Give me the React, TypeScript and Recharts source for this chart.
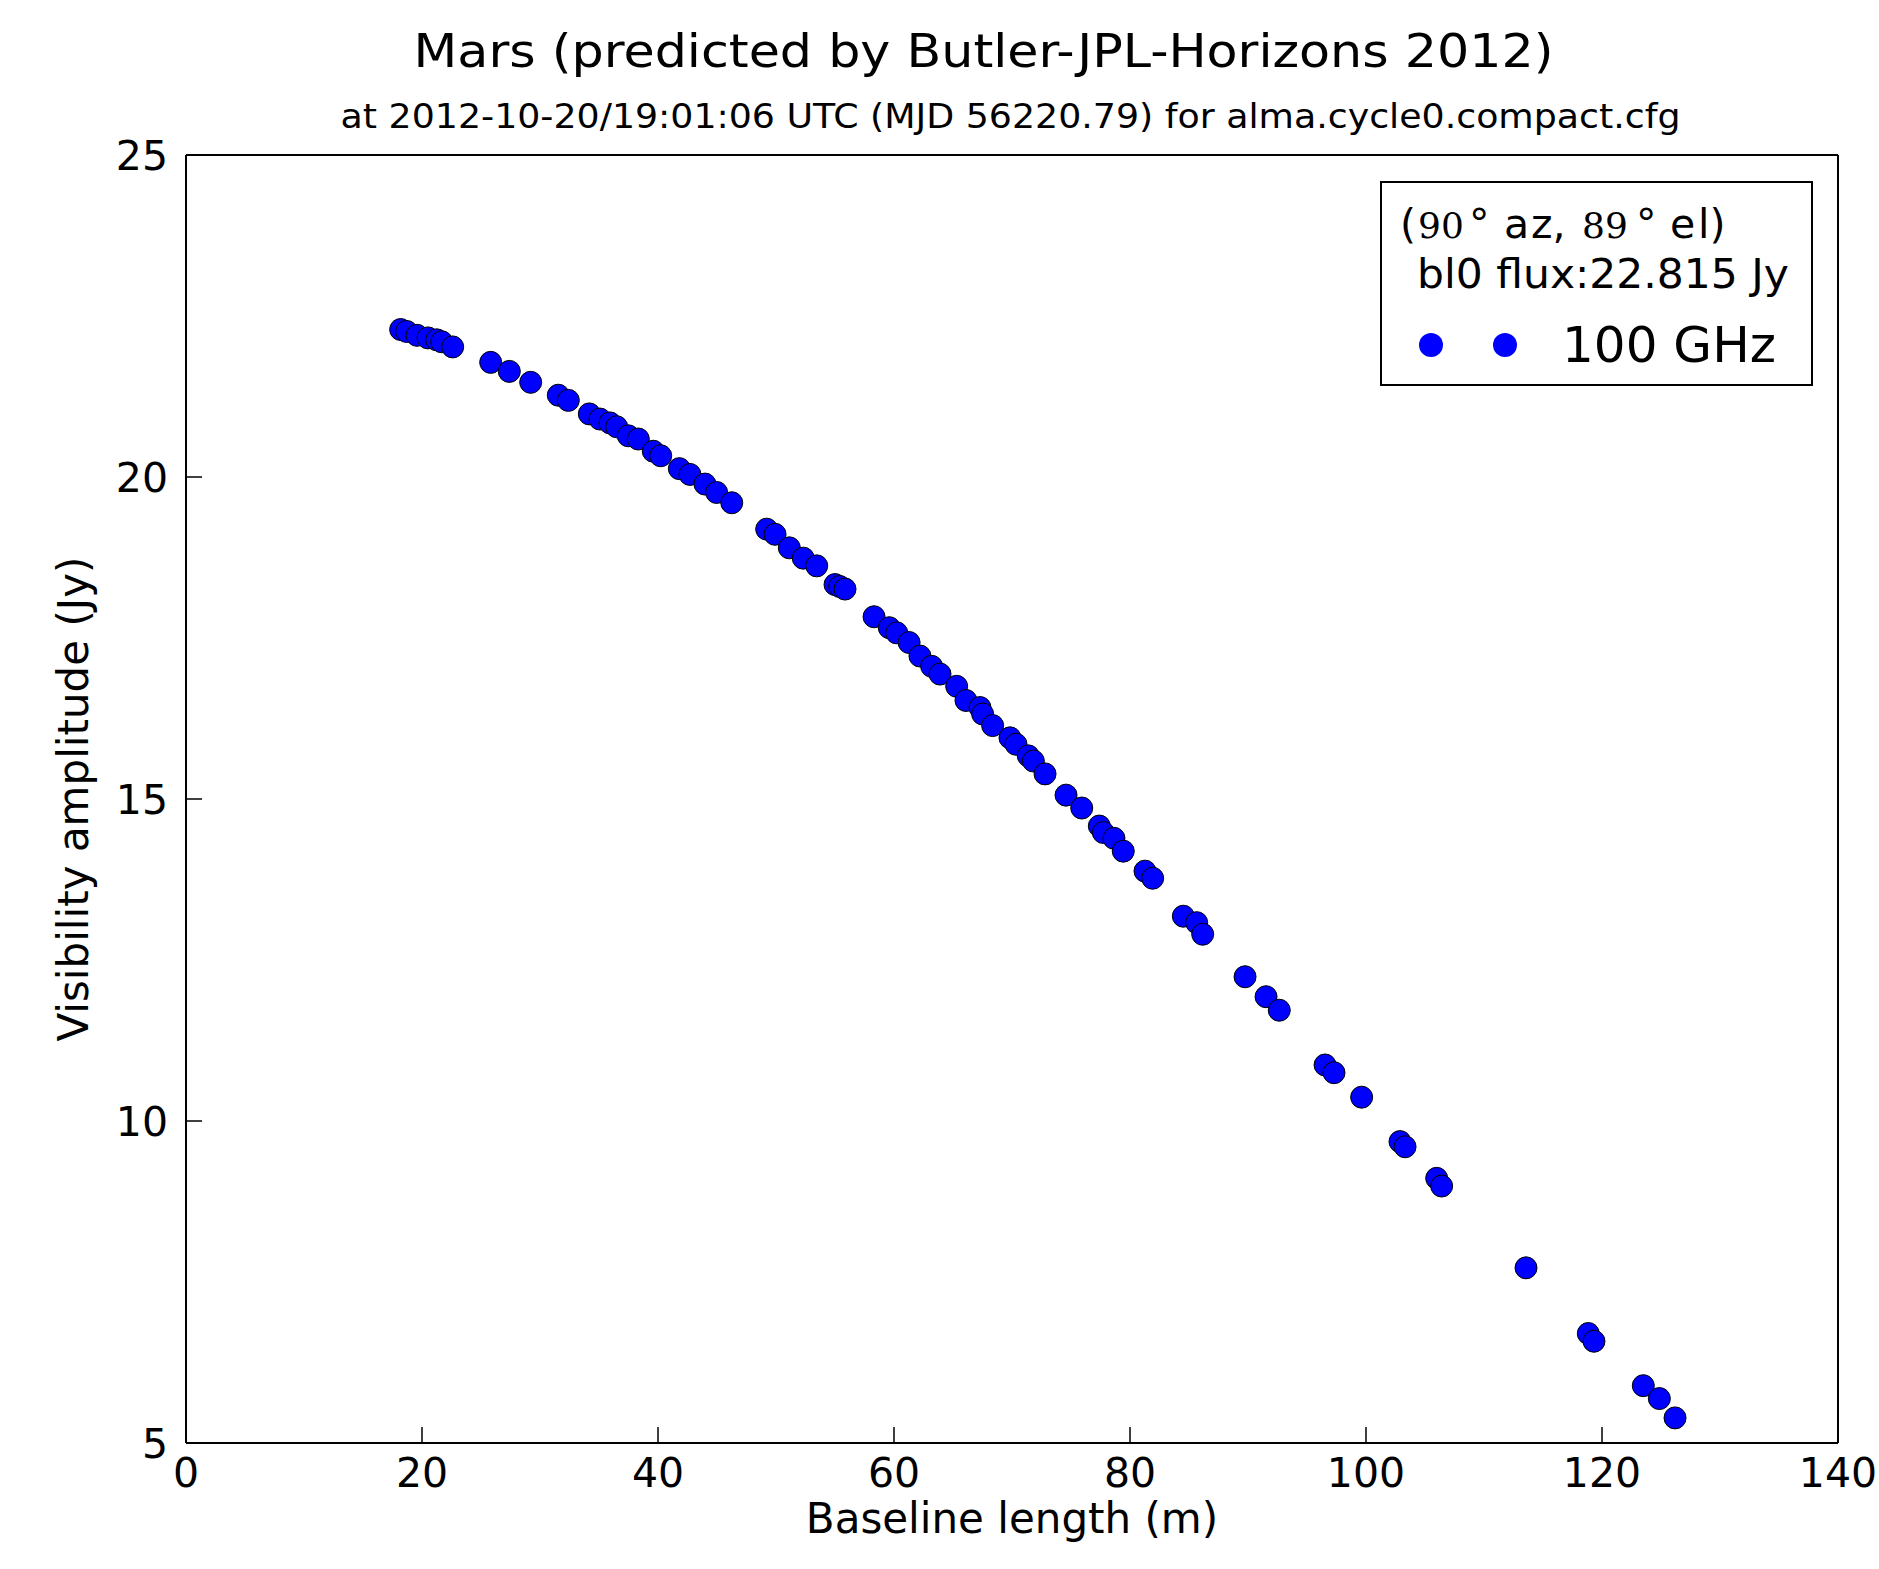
import React from 'react';
import { ScatterChart, Scatter, XAxis, YAxis } from 'recharts';

// Baseline length (m) of each visibility point
const baselineLength = [
  18.19, 18.7, 19.58, 20.51, 21.25, 21.67, 22.6, 25.82, 27.4, 29.21,
  31.55, 32.4, 34.18, 35.08, 35.93, 36.5, 37.48, 38.33, 39.6, 40.23,
  41.81, 42.71, 43.98, 44.97, 46.25, 49.21, 49.92, 51.13, 52.31, 53.45,
  55.0, 55.4, 55.85, 58.31, 59.6, 60.23, 61.28, 62.2, 63.19, 63.9,
  65.31, 66.1, 67.29, 67.51, 68.36, 69.83, 70.34, 71.38, 71.81, 72.8,
  74.58, 75.91, 77.4, 77.74, 78.64, 79.43, 81.27, 81.92, 84.52, 85.65,
  86.16, 89.75, 91.53, 92.65, 96.53, 97.29, 99.63, 102.88, 103.31, 105.99,
  106.41, 113.56, 118.84, 119.32, 123.5, 124.86, 126.19,
];
// Visibility amplitude (Jy) of each point
const amplitude = [
  22.29, 22.26, 22.2, 22.16, 22.13, 22.1, 22.02, 21.78, 21.64, 21.47,
  21.27, 21.19, 20.98, 20.9, 20.84, 20.78, 20.64, 20.59, 20.4, 20.33,
  20.13, 20.04, 19.89, 19.76, 19.6, 19.19, 19.11, 18.9, 18.74, 18.62,
  18.33, 18.3, 18.26, 17.83, 17.66, 17.58, 17.43, 17.22, 17.06, 16.94,
  16.75, 16.53, 16.42, 16.32, 16.14, 15.95, 15.85, 15.67, 15.59, 15.39,
  15.06, 14.86, 14.58, 14.48, 14.39, 14.19, 13.88, 13.77, 13.18, 13.08,
  12.9, 12.24, 11.93, 11.72, 10.87, 10.75, 10.37, 9.68, 9.6, 9.11,
  8.99, 7.72, 6.7, 6.58, 5.89, 5.69, 5.39,
];

const xTicks = [0, 20, 40, 60, 80, 100, 120, 140];
const yTicks = [5, 10, 15, 20, 25];

const titleText = 'Mars (predicted by Butler-JPL-Horizons 2012)';
const subtitleText = 'at 2012-10-20/19:01:06 UTC (MJD 56220.79) for alma.cycle0.compact.cfg';
const xLabel = 'Baseline length (m)';
const yLabel = 'Visibility amplitude (Jy)';
const legendFlux = 'bl0 flux:22.815 Jy';
const seriesName = '100 GHz';

const data = baselineLength.map((x, i) => ({ x, y: amplitude[i] }));

const FONT = 'DejaVu Sans';
const SERIF = 'DejaVu Serif';

const Dot = (props: any) => (
  <circle cx={props.cx} cy={props.cy} r={11} fill="#0000ff" stroke="#000" strokeWidth={1} />
);

const tickStyle = { fill: '#000', fontSize: 41, fontFamily: FONT };

export default function App() {
  return (
    <div style={{ position: 'absolute', left: 0, top: 0, width: 1879, height: 1569, background: '#fff' }}>
      <ScatterChart width={1879} height={1569} margin={{ top: 145, right: 31, bottom: 66, left: 86 }}>
        <XAxis
          dataKey="x"
          type="number"
          domain={[0, 140]}
          ticks={xTicks}
          interval={0}
          allowDataOverflow
          height={60}
          axisLine={{ stroke: '#000', strokeWidth: 2 }}
          tickLine={{ stroke: '#000', strokeWidth: 1.5 }}
          tickSize={-16}
          tickMargin={31}
          tick={tickStyle}
        />
        <XAxis
          xAxisId="top"
          orientation="top"
          dataKey="x"
          type="number"
          domain={[0, 140]}
          ticks={xTicks}
          interval={0}
          allowDataOverflow
          height={10}
          axisLine={{ stroke: '#000', strokeWidth: 2 }}
          tickLine={{ stroke: '#000', strokeWidth: 1.5 }}
          tickSize={-16}
          tick={false}
        />
        <YAxis
          dataKey="y"
          type="number"
          domain={[5, 25]}
          ticks={yTicks}
          interval={0}
          allowDataOverflow
          width={100}
          axisLine={{ stroke: '#000', strokeWidth: 2 }}
          tickLine={{ stroke: '#000', strokeWidth: 1.5 }}
          tickSize={-16}
          tickMargin={34}
          tick={tickStyle}
        />
        <YAxis
          yAxisId="right"
          orientation="right"
          dataKey="y"
          type="number"
          domain={[5, 25]}
          ticks={yTicks}
          interval={0}
          allowDataOverflow
          width={10}
          axisLine={{ stroke: '#000', strokeWidth: 2 }}
          tickLine={{ stroke: '#000', strokeWidth: 1.5 }}
          tickSize={-16}
          tick={false}
        />
        <Scatter name={seriesName} data={data} shape={Dot} isAnimationActive={false} />

        <text x={413.6} y={66.7} fontFamily={FONT} fontSize={47} fill="#000" textLength={1140} lengthAdjust="spacingAndGlyphs">
          {titleText}
        </text>
        <text x={340.6} y={128.3} fontFamily={FONT} fontSize={33} fill="#000" textLength={1340} lengthAdjust="spacingAndGlyphs">
          {subtitleText}
        </text>
        <text x={1012} y={1533} fontFamily={FONT} fontSize={42} fill="#000" textAnchor="middle">
          {xLabel}
        </text>
        <text
          x={88}
          y={799}
          transform="rotate(-90, 88, 799)"
          fontFamily={FONT}
          fontSize={42}
          fill="#000"
          textAnchor="middle"
        >
          {yLabel}
        </text>

        <g>
          <rect x={1381} y={182} width={431} height={203} fill="#fff" stroke="#000" strokeWidth={2} />
          <text y={238} fontSize={41} fill="#000" fontFamily={FONT}>
            <tspan x={1400}>(</tspan>
            <tspan x={1418} fontFamily={SERIF} fontSize={36}>90</tspan>
            <tspan x={1469}>°</tspan>
            <tspan x={1504}>a</tspan>
            <tspan x={1531}>z,</tspan>
            <tspan x={1582} fontFamily={SERIF} fontSize={36}>89</tspan>
            <tspan x={1636}>°</tspan>
            <tspan x={1670}>e</tspan>
            <tspan x={1698}>l)</tspan>
          </text>
          <text x={1417} y={288} fontSize={41} fill="#000" fontFamily={FONT} textLength={372} lengthAdjust="spacingAndGlyphs">
            {legendFlux}
          </text>
          <circle cx={1431} cy={345} r={12} fill="#0000ff" />
          <circle cx={1505} cy={345} r={12} fill="#0000ff" />
          <text x={1562} y={362} fontSize={49} fill="#000" fontFamily={FONT} textLength={214} lengthAdjust="spacingAndGlyphs">
            {seriesName}
          </text>
        </g>
      </ScatterChart>
    </div>
  );
}
